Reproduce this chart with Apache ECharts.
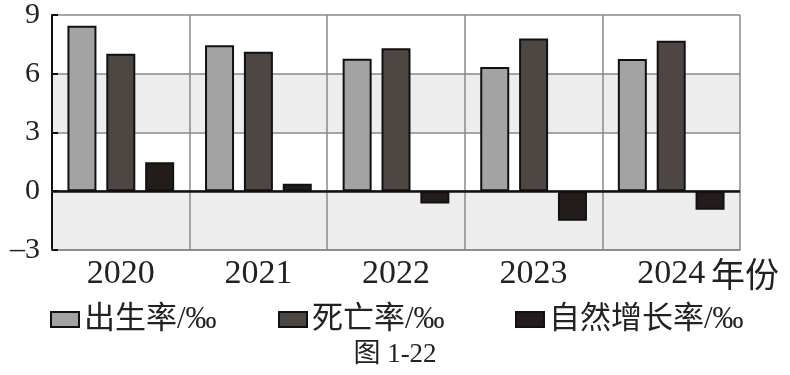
<!DOCTYPE html>
<html>
<head>
<meta charset="utf-8">
<script src="https://cdn.jsdelivr.net/npm/echarts@6/dist/echarts.min.js"></script>
<style>html,body{margin:0;padding:0;background:#fff}#c{width:790px;height:375px}</style>
</head>
<body>
<div id="c"></div>
<script>
var categories = ['2020', '2021', '2022', '2023', '2024'];
var birthRate = [8.45, 7.45, 6.77, 6.35, 6.75];
var deathRate = [7.02, 7.12, 7.3, 7.8, 7.68];
var naturalRate = [1.48, 0.38, -0.62, -1.5, -0.95];
var seriesNames = ['出生率/‰', '死亡率/‰', '自然增长率/‰'];
var yTicks = { min: -3, max: 9, interval: 3 };

var serif = "'Liberation Serif','Noto Sans CJK SC',serif";
var chart = echarts.init(document.getElementById('c'), null, { renderer: 'canvas' });
function legendAt(name, left) {
  return {
    data: [name], left: left, top: 299, orient: 'horizontal',
    itemWidth: 28, itemHeight: 15, icon: 'rect',
    textStyle: { fontSize: 31, fontFamily: serif, color: '#222' },
    selectedMode: false
  };
}
chart.setOption({
  animation: false,
  backgroundColor: '#fff',
  title: {
    text: '图 1-22', left: 'center', top: 336,
    textStyle: { fontSize: 27, fontWeight: 'normal', fontFamily: serif, color: '#222' }
  },
  legend: [legendAt(seriesNames[0], 45), legendAt(seriesNames[1], 273), legendAt(seriesNames[2], 510)],
  grid: { left: 52, right: 50, top: 7.5, bottom: 125, containLabel: false },
  xAxis: {
    type: 'category', data: categories, boundaryGap: true,
    axisLine: { onZero: false, lineStyle: { color: '#888', width: 1.5 } },
    axisTick: { show: false },
    axisLabel: { fontSize: 34, fontFamily: serif, color: '#222', margin: 7 },
    splitLine: { show: true, interval: 0, lineStyle: { color: '#888', width: 1.5 } },
    name: '年份', nameLocation: 'end', nameGap: -30,
    nameTextStyle: { fontSize: 34, fontFamily: "'Noto Sans CJK SC',sans-serif", color: '#222', align: 'left', verticalAlign: 'top', padding: [7, 0, 0, 0] }
  },
  yAxis: {
    type: 'value', min: yTicks.min, max: yTicks.max, interval: yTicks.interval,
    axisLine: { show: true, lineStyle: { color: '#111', width: 2 } },
    axisTick: { show: true, inside: true, length: 6, lineStyle: { color: '#111', width: 2 } },
    axisLabel: {
      fontSize: 30, fontFamily: serif, color: '#222', margin: 12,
      formatter: function (v) { return v < 0 ? '\u2013' + Math.abs(v) : String(v); }
    },
    splitLine: { show: true, lineStyle: { color: '#888', width: 1.5 } },
    splitArea: { show: true, areaStyle: { color: ['#ededed', '#ffffff'] } }
  },
  series: [
    {
      name: seriesNames[0], type: 'bar', data: birthRate,
      barWidth: 29, barGap: '34%', barCategoryGap: '22%',
      itemStyle: { color: '#a3a3a3', borderColor: '#111', borderWidth: 2 },
      markLine: {
        silent: true, symbol: 'none', label: { show: false },
        lineStyle: { color: '#111', width: 2.5, type: 'solid' },
        data: [{ yAxis: 0 }]
      }
    },
    {
      name: seriesNames[1], type: 'bar', data: deathRate,
      barWidth: 29, barGap: '34%', barCategoryGap: '22%',
      itemStyle: { color: '#4e4643', borderColor: '#111', borderWidth: 2 }
    },
    {
      name: seriesNames[2], type: 'bar', data: naturalRate,
      barWidth: 29, barGap: '34%', barCategoryGap: '22%',
      itemStyle: { color: '#231c1a', borderColor: '#111', borderWidth: 2 }
    }
  ]
});
</script>
</body>
</html>
